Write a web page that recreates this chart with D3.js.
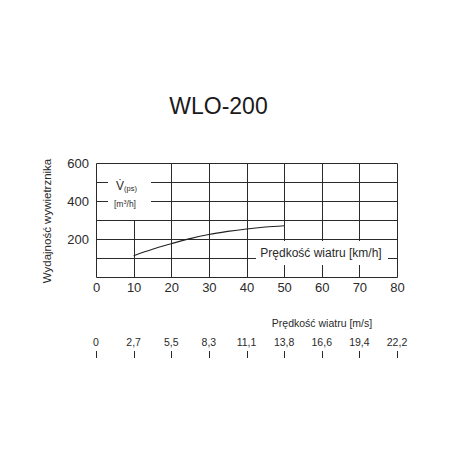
<!DOCTYPE html>
<html><head><meta charset="utf-8">
<script src="https://cdn.jsdelivr.net/npm/d3@7"></script>
<style>
html,body{margin:0;padding:0;background:#fff;}
svg{display:block;font-family:"Liberation Sans",Arial,sans-serif;}
</style></head>
<body>
<svg id="c" width="458" height="458"></svg>
<script>
const title = "WLO-200";
const speedKmh = [10, 15, 20, 25, 30, 35, 40, 45, 50];
const capacity = [112, 146, 175, 202, 224, 240, 253, 263, 270];
const xTicks = [0, 10, 20, 30, 40, 50, 60, 70, 80];
const yGrid = [100, 200, 300, 400, 500, 600];
const yTickLabels = [200, 400, 600];
const msLabels = ["0", "2,7", "5,5", "8,3", "11,1", "13,8", "16,6", "19,4", "22,2"];
const yTitle = "Wydajność wywietrznika";
const kmhTitle = "Prędkość wiatru [km/h]";
const msTitle = "Prędkość wiatru [m/s]";

const svg = d3.select("#c");
const ink = "#2a2a2a";
const x = d3.scaleLinear().domain([0, 80]).range([96, 397]);
const y = d3.scaleLinear().domain([0, 600]).range([277, 163]);
const px = v => Math.round(x(v)) + 0.5;
const py = v => Math.round(y(v)) + 0.5;

svg.append("text").attr("x", 218.5).attr("y", 114).attr("text-anchor", "middle")
  .attr("font-size", 23).attr("fill", "#1a1a1a").text(title);

const g = svg.append("g").attr("stroke", ink).attr("stroke-width", 1).attr("fill", "none");
g.selectAll("line.h").data(yGrid).enter().append("line")
  .attr("x1", px(0)).attr("x2", px(80)).attr("y1", d => py(d)).attr("y2", d => py(d));
g.selectAll("line.v").data(xTicks.filter(d => d !== 0 && d !== 10)).enter().append("line")
  .attr("x1", d => px(d)).attr("x2", d => px(d)).attr("y1", py(600)).attr("y2", py(0));
g.append("line").attr("x1", px(10)).attr("x2", px(10)).attr("y1", py(300)).attr("y2", py(0));
g.append("line").attr("x1", px(0)).attr("x2", px(0)).attr("y1", py(600)).attr("y2", py(0));
g.append("line").attr("x1", px(0)).attr("x2", px(80)).attr("y1", py(0)).attr("y2", py(0));

const line = d3.line().x((d, i) => x(speedKmh[i])).y(d => y(d)).curve(d3.curveMonotoneX);
svg.append("path").attr("d", line(capacity)).attr("fill", "none")
  .attr("stroke", "#222").attr("stroke-width", 1.1);

svg.append("rect").attr("x", 108).attr("y", 172).attr("width", 43).attr("height", 40).attr("fill", "#fff");
svg.append("rect").attr("x", 256).attr("y", 241).attr("width", 132).attr("height", 24).attr("fill", "#fff");

const vt = svg.append("text").attr("x", 116).attr("y", 190).attr("font-size", 12).attr("fill", ink);
vt.append("tspan").text("V\u0307");
vt.append("tspan").attr("font-size", 7.5).attr("dy", 1).text("(ps)");
const ut = svg.append("text").attr("x", 114).attr("y", 207).attr("font-size", 8.5).attr("fill", ink);
ut.append("tspan").text("[m");
ut.append("tspan").attr("font-size", 5.5).attr("dy", -3).text("3");
ut.append("tspan").attr("dy", 3).text("/h]");

svg.append("text").attr("x", 321).attr("y", 257).attr("text-anchor", "middle")
  .attr("font-size", 12).attr("fill", ink).text(kmhTitle);

const yAxis = d3.axisLeft(y).tickValues(yTickLabels).tickSize(0).tickPadding(7);
const ya = svg.append("g").attr("transform", "translate(96,0)").call(yAxis);
ya.select(".domain").remove();
ya.selectAll("text").attr("font-size", 13).attr("fill", ink).attr("font-family", "Liberation Sans, Arial, sans-serif");

const xAxis = d3.axisBottom(x).tickValues(xTicks).tickSize(0).tickPadding(6);
const xa = svg.append("g").attr("transform", "translate(0,277)").call(xAxis);
xa.select(".domain").remove();
xa.selectAll("text").attr("font-size", 13).attr("fill", ink).attr("font-family", "Liberation Sans, Arial, sans-serif");

svg.append("text").attr("transform", "translate(51,221) rotate(-90)").attr("text-anchor", "middle")
  .attr("font-size", 11.5).attr("fill", ink).text(yTitle);

svg.append("text").attr("x", 322).attr("y", 327).attr("text-anchor", "middle")
  .attr("font-size", 10.5).attr("fill", ink).text(msTitle);
const ms = svg.append("g");
ms.selectAll("text").data(xTicks).enter().append("text")
  .attr("x", d => x(d)).attr("y", 346).attr("text-anchor", "middle")
  .attr("font-size", 10.5).attr("fill", ink).text((d, i) => msLabels[i]);
ms.selectAll("line").data(xTicks).enter().append("line")
  .attr("x1", d => px(d)).attr("x2", d => px(d)).attr("y1", 351).attr("y2", 358)
  .attr("stroke", ink).attr("stroke-width", 1);
</script>
</body></html>
